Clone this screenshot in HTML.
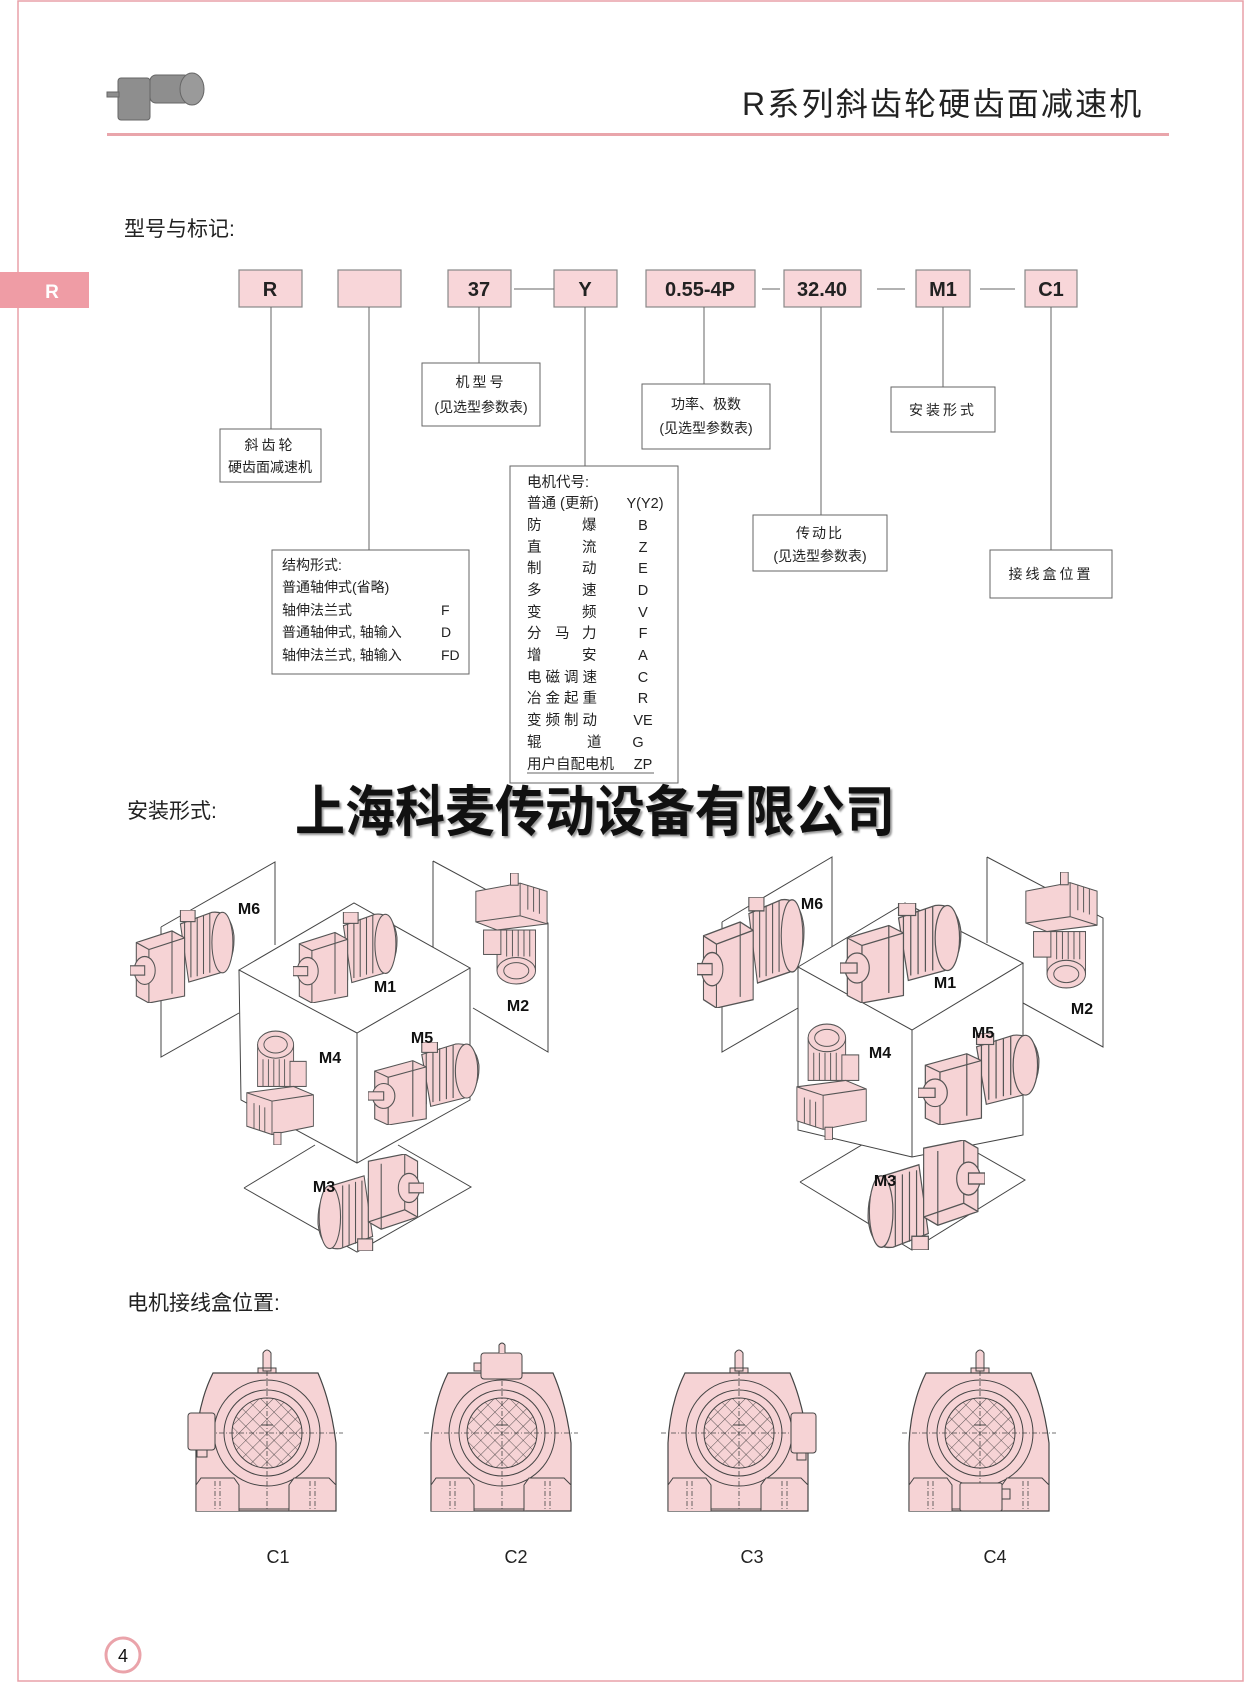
<!DOCTYPE html>
<html><head><meta charset="utf-8">
<style>
html,body{margin:0;padding:0;background:#fff;}
body{width:1258px;height:1683px;position:relative;overflow:hidden;font-family:"Liberation Sans","Noto Sans CJK SC",sans-serif;}
svg{position:absolute;left:0;top:0;}
text{font-family:"Liberation Sans","Noto Sans CJK SC",sans-serif;}
</style></head><body>
<svg width="1258" height="1683" viewBox="0 0 1258 1683" xmlns="http://www.w3.org/2000/svg">
<defs>
<symbol id="mh" viewBox="0 0 100 80" preserveAspectRatio="none">
 <g stroke="#555" stroke-width="1" fill="#f6d3d5">
  <path d="M48 12 L78 2 Q96 0 99 22 Q100 45 86 54 L56 62 Z"/>
  <path d="M52 10 L52 60 M58 8 L58 58 M64 6 L64 57 M70 5 L70 55 M76 3 L76 54"/>
  <ellipse cx="88" cy="28" rx="10" ry="26"/>
  <rect x="48" y="0" width="14" height="10"/>
  <path d="M6 28 L40 18 L52 24 L52 74 L18 80 L6 74 Z"/>
  <path d="M40 18 L40 72 M18 34 L18 80 M6 28 L18 34 L52 24"/>
  <ellipse cx="14" cy="52" rx="10" ry="12"/>
  <rect x="0" y="48" width="14" height="8"/>
 </g>
</symbol>
<symbol id="mv" viewBox="0 0 80 110" preserveAspectRatio="none">
 <g stroke="#555" stroke-width="1" fill="#f6d3d5">
  <rect x="14" y="14" width="40" height="40"/>
  <ellipse cx="34" cy="14" rx="20" ry="13"/>
  <ellipse cx="34" cy="14" rx="13" ry="8"/>
  <path d="M20 28 L20 54 M26 28 L26 54 M32 28 L32 54 M38 28 L38 54 M44 28 L44 54"/>
  <rect x="50" y="30" width="18" height="24"/>
  <path d="M2 60 L54 54 L76 62 L76 92 L30 100 L2 92 Z"/>
  <path d="M2 60 L30 68 L76 62 M30 68 L30 100 M10 70 L10 94 M16 72 L16 96 M22 74 L22 98"/>
  <rect x="32" y="98" width="8" height="12"/>
 </g>
</symbol>
<pattern id="hx" width="10" height="10" patternUnits="userSpaceOnUse" patternTransform="rotate(45)">
 <path d="M0 0 L0 10 M0 0 L10 0" stroke="#333" stroke-width="0.8"/>
</pattern>
<g id="gb">
 <path d="M-71 78 L-71 10 Q-69 -30 -54 -60 L51 -60 Q64 -30 69 10 L69 78 Z" fill="#f6d3d5" stroke="#444" stroke-width="1.2"/>
 <circle r="53" fill="#f6d3d5" stroke="#444" stroke-width="1"/>
 <circle r="43" fill="#f6d3d5" stroke="#444" stroke-width="1"/>
 <circle r="35" fill="url(#hx)" stroke="#444" stroke-width="1"/>
 <path d="M-71 78 L-71 52 L-66 45 L-33 45 L-28 52 L-28 78 M22 78 L22 52 L27 45 L62 45 L69 52" fill="#f6d3d5" stroke="#444" stroke-width="1"/>
 <path d="M-28 76 L22 76" stroke="#444"/>
 <path d="M-78 0 L76 0 M0 -62 L0 78 M-52 48 L-52 78 M-47 48 L-47 78 M43 48 L43 78 M48 48 L48 78" stroke="#444" stroke-width="0.8" stroke-dasharray="5,2,1,2"/>
 <path d="M-6 -8 L6 -8" stroke="#444"/>
</g>
</defs>

<path d="M18 1 L1243 1 L1243 1681 L18 1681 Z" fill="none" stroke="#e8a0a8" stroke-width="1.5"/>
<rect x="107" y="133" width="1062" height="3" fill="#e9a5ab"/>
<g fill="#8e8e8e" stroke="#666">
 <rect x="118" y="78" width="32" height="42" rx="3"/>
 <rect x="150" y="75" width="40" height="28" rx="6"/>
 <ellipse cx="192" cy="89" rx="12" ry="16" fill="#9a9a9a"/>
 <rect x="107" y="92" width="12" height="5"/>
</g>
<text x="742" y="115" font-size="32" letter-spacing="2.2" fill="#222">R系列斜齿轮硬齿面减速机</text>
<rect x="0" y="272" width="89" height="36" fill="#ef9ca5"/>
<text x="52" y="298" font-size="19" font-weight="bold" fill="#fff" text-anchor="middle">R</text>
<text x="124" y="236" font-size="21" fill="#222">型号与标记:</text>

<g fill="#f8d6d9" stroke="#888" stroke-width="1.2">
 <rect x="239" y="270" width="63" height="37"/>
 <rect x="338" y="270" width="63" height="37"/>
 <rect x="448" y="270" width="63" height="37"/>
 <rect x="554" y="270" width="63" height="37"/>
 <rect x="646" y="270" width="109" height="37"/>
 <rect x="784" y="270" width="77" height="37"/>
 <rect x="916" y="270" width="54" height="37"/>
 <rect x="1025" y="270" width="52" height="37"/>
</g>
<g font-size="20" font-weight="bold" fill="#222" text-anchor="middle">
 <text x="270" y="296">R</text>
 <text x="479" y="296">37</text>
 <text x="585" y="296">Y</text>
 <text x="700" y="296">0.55-4P</text>
 <text x="822" y="296">32.40</text>
 <text x="943" y="296">M1</text>
 <text x="1051" y="296">C1</text>
</g>
<g stroke="#666" stroke-width="1" fill="none">
 <path d="M514 289 L554 289 M762 289 L780 289 M877 289 L905 289 M980 289 L1015 289"/>
 <path d="M271 307 L271 429 M369 307 L369 550 M479 307 L479 363 M585 307 L585 466 M704 307 L704 384 M821 307 L821 515 M943 307 L943 387 M1051 307 L1051 550"/>
 <rect x="220" y="429" width="101" height="53"/>
 <rect x="272" y="550" width="197" height="124"/>
 <rect x="422" y="363" width="118" height="63"/>
 <rect x="510" y="466" width="168" height="317"/>
 <rect x="642" y="384" width="128" height="65"/>
 <rect x="753" y="515" width="134" height="56"/>
 <rect x="891" y="387" width="104" height="45"/>
 <rect x="990" y="550" width="122" height="48"/>
 <path d="M527 773 L654 773"/>
</g>
<g font-size="14" fill="#222">
 <text x="270" y="450" text-anchor="middle" letter-spacing="3">斜齿轮</text>
 <text x="270" y="472" text-anchor="middle">硬齿面减速机</text>
 <text x="481" y="387" text-anchor="middle" letter-spacing="3">机型号</text>
 <text x="481" y="412" text-anchor="middle">(见选型参数表)</text>
 <text x="706" y="409" text-anchor="middle">功率、极数</text>
 <text x="706" y="433" text-anchor="middle">(见选型参数表)</text>
 <text x="820" y="538" text-anchor="middle" letter-spacing="2">传动比</text>
 <text x="820" y="561" text-anchor="middle">(见选型参数表)</text>
 <text x="943" y="415" text-anchor="middle" letter-spacing="3">安装形式</text>
 <text x="1051" y="579" text-anchor="middle" letter-spacing="3">接线盒位置</text>
 <text x="282" y="570">结构形式:</text>
 <text x="282" y="592">普通轴伸式(省略)</text>
 <text x="282" y="615">轴伸法兰式</text><text x="441" y="615">F</text>
 <text x="282" y="637">普通轴伸式, 轴输入</text><text x="441" y="637">D</text>
 <text x="282" y="660">轴伸法兰式, 轴输入</text><text x="441" y="660">FD</text>
</g>
<g font-size="14.5" fill="#222">
 <text x="527" y="487">电机代号:</text>
 <text x="527" y="508">普通 (更新)</text><text x="645" y="508" text-anchor="middle">Y(Y2)</text>
 <text x="527" y="530">防</text><text x="582" y="530">爆</text><text x="643" y="530" text-anchor="middle">B</text>
 <text x="527" y="552">直</text><text x="582" y="552">流</text><text x="643" y="552" text-anchor="middle">Z</text>
 <text x="527" y="573">制</text><text x="582" y="573">动</text><text x="643" y="573" text-anchor="middle">E</text>
 <text x="527" y="595">多</text><text x="582" y="595">速</text><text x="643" y="595" text-anchor="middle">D</text>
 <text x="527" y="617">变</text><text x="582" y="617">频</text><text x="643" y="617" text-anchor="middle">V</text>
 <text x="527" y="638">分</text><text x="555" y="638">马</text><text x="582" y="638">力</text><text x="643" y="638" text-anchor="middle">F</text>
 <text x="527" y="660">增</text><text x="582" y="660">安</text><text x="643" y="660" text-anchor="middle">A</text>
 <text x="527" y="682" letter-spacing="4">电磁调速</text><text x="643" y="682" text-anchor="middle">C</text>
 <text x="527" y="703" letter-spacing="4">冶金起重</text><text x="643" y="703" text-anchor="middle">R</text>
 <text x="527" y="725" letter-spacing="4">变频制动</text><text x="643" y="725" text-anchor="middle">VE</text>
 <text x="527" y="747">辊</text><text x="587" y="747">道</text><text x="638" y="747" text-anchor="middle">G</text>
 <text x="527" y="769">用户自配电机</text><text x="643" y="769" text-anchor="middle">ZP</text>
</g>

<text x="127" y="818" font-size="21" fill="#222">安装形式:</text>
<text x="295" y="831" font-size="50" font-weight="bold" fill="#111" style="text-shadow:2px 2px 2px #999" transform="translate(0,-83) scale(1,1.1)">上海科麦传动设备有限公司</text>

<g fill="none" stroke="#444" stroke-width="1">
 <path d="M161 927 L275 862 L275 945 M161 927 L161 1057 L239 1013"/>
 <path d="M433 861 L548 923 L548 1052 L473 1008 M433 861 L433 947"/>
 <path d="M244 1188 L315 1145 M398 1145 L471 1187 L357 1252 L244 1188"/>
 <path d="M239 970 L354 903 L470 968 L357 1033 Z M239 970 L241 1100 L357 1163 L470 1100 L470 968 M357 1033 L357 1163" fill="#fff"/>
</g>
<use href="#mh" x="130" y="910" width="105" height="93"/>
<use href="#mh" x="293" y="912" width="105" height="91"/>
<use href="#mv" x="473" y="873" width="77" height="112" transform="rotate(180 511 929)"/>
<use href="#mv" x="245" y="1030" width="72" height="115"/>
<use href="#mh" x="368" y="1042" width="112" height="83"/>
<use href="#mh" x="318" y="1155" width="107" height="97" transform="rotate(180 371 1203)"/>
<g font-size="16" font-weight="bold" fill="#111" text-anchor="middle">
 <text x="249" y="914">M6</text><text x="385" y="992">M1</text><text x="518" y="1011">M2</text>
 <text x="330" y="1063">M4</text><text x="422" y="1043">M5</text><text x="324" y="1192">M3</text>
</g>

<g fill="none" stroke="#444" stroke-width="1">
 <path d="M722 922 L832 857 L832 947 M722 922 L722 1052 L798 1008"/>
 <path d="M987 857 L1103 918 L1103 1047 L1023 1003 M987 857 L987 943"/>
 <path d="M800 1182 L870 1140 M955 1140 L1025 1180 L912 1250 L800 1182"/>
 <path d="M798 967 L905 903 L1023 963 L912 1030 Z M798 967 L798 1130 L912 1157 L1023 1135 L1023 963 M912 1030 L912 1157" fill="#fff"/>
</g>
<use href="#mh" x="697" y="897" width="108" height="111"/>
<use href="#mh" x="840" y="903" width="122" height="100"/>
<use href="#mv" x="1023" y="873" width="77" height="117" transform="rotate(180 1061 931)"/>
<use href="#mv" x="795" y="1023" width="75" height="117"/>
<use href="#mh" x="918" y="1033" width="122" height="92"/>
<use href="#mh" x="867" y="1140" width="118" height="110" transform="rotate(180 926 1195)"/>
<g font-size="16" font-weight="bold" fill="#111" text-anchor="middle">
 <text x="812" y="909">M6</text><text x="945" y="988">M1</text><text x="1082" y="1014">M2</text>
 <text x="880" y="1058">M4</text><text x="983" y="1038">M5</text><text x="885" y="1186">M3</text>
</g>

<text x="127" y="1310" font-size="21" fill="#222">电机接线盒位置:</text>

<g transform="translate(267,1433)">
 <path d="M-4 -62 L-4 -80 Q0 -86 4 -80 L4 -62 Z M-9 -60 L-9 -65 L9 -65 L9 -60" fill="#f6d3d5" stroke="#444"/>
 <use href="#gb"/>
 <rect x="-79" y="-20" width="27" height="37" rx="3" fill="#f6d3d5" stroke="#444"/>
 <rect x="-70" y="17" width="10" height="7" fill="#f6d3d5" stroke="#444"/>
</g>
<g transform="translate(502,1433)">
 <use href="#gb"/>
 <rect x="-21" y="-80" width="41" height="26" rx="3" fill="#f6d3d5" stroke="#444"/>
 <rect x="-28" y="-70" width="7" height="8" fill="#f6d3d5" stroke="#444"/>
 <path d="M-3 -80 L-3 -88 Q0 -92 3 -88 L3 -80" fill="#f6d3d5" stroke="#444"/>
</g>
<g transform="translate(739,1433)">
 <path d="M-4 -62 L-4 -80 Q0 -86 4 -80 L4 -62 Z M-9 -60 L-9 -65 L9 -65 L9 -60" fill="#f6d3d5" stroke="#444"/>
 <use href="#gb"/>
 <rect x="52" y="-20" width="25" height="40" rx="3" fill="#f6d3d5" stroke="#444"/>
 <rect x="58" y="20" width="9" height="7" fill="#f6d3d5" stroke="#444"/>
</g>
<g transform="translate(980,1433)">
 <path d="M-4 -62 L-4 -80 Q0 -86 4 -80 L4 -62 Z M-9 -60 L-9 -65 L9 -65 L9 -60" fill="#f6d3d5" stroke="#444"/>
 <use href="#gb"/>
 <rect x="-20" y="50" width="42" height="28" rx="2" fill="#f6d3d5" stroke="#444"/>
 <rect x="22" y="56" width="8" height="10" fill="#f6d3d5" stroke="#444"/>
</g>
<g font-size="18" fill="#222" text-anchor="middle">
 <text x="278" y="1563">C1</text><text x="516" y="1563">C2</text>
 <text x="752" y="1563">C3</text><text x="995" y="1563">C4</text>
</g>

<circle cx="123" cy="1655" r="17" fill="#fff" stroke="#eaa3aa" stroke-width="3"/>
<text x="123" y="1662" font-size="18" fill="#111" text-anchor="middle">4</text>
</svg>
</body></html>
